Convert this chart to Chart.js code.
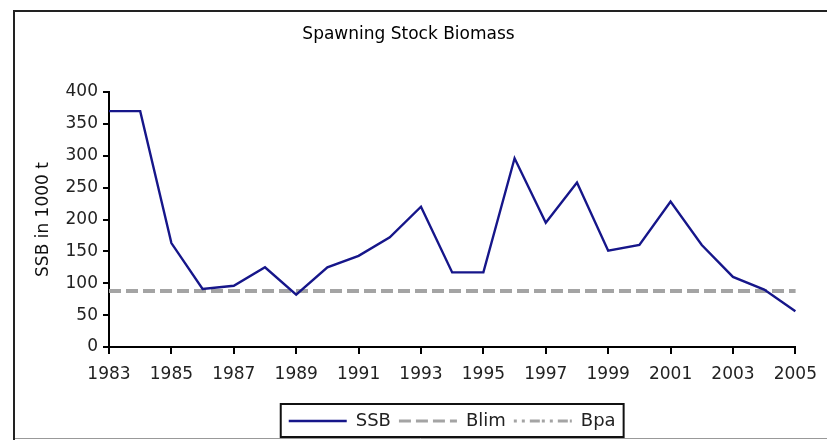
<!DOCTYPE html>
<html>
<head>
<meta charset="utf-8">
<script src="https://cdn.jsdelivr.net/npm/chart.js@4.4.0/dist/chart.umd.min.js"></script>
<style>
  html, body { margin: 0; padding: 0; background: #fff; }
</style>
</head>
<body>
<canvas id="chart" width="827" height="440"></canvas>
<script>
// valores (miles de t)
const years = ['1983', '1984', '1985', '1986', '1987', '1988', '1989', '1990', '1991', '1992', '1993', '1994',
  '1995', '1996', '1997', '1998', '1999', '2000', '2001', '2002', '2003', '2004', '2005'];
const ssb = [370, 370, 163, 91, 96, 125, 82, 125, 143, 172, 220, 117,
  117, 296, 195, 258, 151, 160, 228, 160, 110, 90, 56];
const blim = [88, 88, 88, 88, 88, 88, 88, 88, 88, 88, 88, 88,
  88, 88, 88, 88, 88, 88, 88, 88, 88, 88, 88];
const bpa = [88, 88, 88, 88, 88, 88, 88, 88, 88, 88, 88, 88,
  88, 88, 88, 88, 88, 88, 88, 88, 88, 88, 88];
const yTicks = [0, 50, 100, 150, 200, 250, 300, 350, 400];

const FONT = 'DejaVu Sans';

// marco exterior + recuadro de la leyenda
const framePlugin = {
  id: 'frame',
  beforeDraw(chart) {
    const ctx = chart.ctx;
    ctx.save();
    ctx.fillStyle = '#fff';
    ctx.fillRect(0, 0, chart.width, chart.height);
    ctx.strokeStyle = '#999';
    ctx.lineWidth = 1;
    ctx.beginPath();
    ctx.moveTo(14, 438.5);
    ctx.lineTo(chart.width, 438.5);
    ctx.stroke();
    ctx.strokeStyle = '#222';
    ctx.lineWidth = 2;
    ctx.beginPath();
    ctx.moveTo(14, chart.height);
    ctx.lineTo(14, 11);
    ctx.lineTo(chart.width, 11);
    ctx.stroke();
    ctx.restore();
  },
  afterDraw(chart) {
    const boxes = chart.legend.legendHitBoxes;
    if (!boxes || !boxes.length) return;
    const left = Math.min(...boxes.map(b => b.left)) - 8;
    const right = Math.max(...boxes.map(b => b.left + b.width)) + 8;
    const ctx = chart.ctx;
    ctx.save();
    ctx.strokeStyle = '#111';
    ctx.lineWidth = 2;
    ctx.strokeRect(left, 404, right - left, 33);
    ctx.restore();
  }
};

new Chart(document.getElementById('chart'), {
  type: 'line',
  data: {
    labels: years,
    datasets: [
      { label: 'SSB', data: ssb, borderColor: '#16168a', borderWidth: 2.4, pointRadius: 0, pointStyle: 'line', tension: 0 },
      { label: 'Blim', data: blim, borderColor: '#a4a4a4', borderWidth: 4, borderDash: [12, 5], pointRadius: 0, pointStyle: 'line' },
      { label: 'Bpa', data: bpa, borderColor: '#a4a4a4', borderWidth: 4, borderDash: [12, 5], legendDash: [3, 5, 3, 5, 10, 2], pointRadius: 0, pointStyle: 'line' }
    ]
  },
  options: {
    responsive: false,
    animation: false,
    devicePixelRatio: 1,
    layout: { padding: { left: 20, right: 30, top: 0, bottom: 0 } },
    plugins: {
      title: {
        display: true,
        text: 'Spawning Stock Biomass',
        color: '#000',
        font: { family: FONT, size: 17, weight: 'normal' },
        padding: { top: 24, bottom: 47.6 }
      },
      legend: {
        position: 'bottom',
        fullSize: false,
        labels: {
          usePointStyle: true,
          pointStyleWidth: 58,
          boxHeight: 18,
          padding: 8,
          color: '#222',
          font: { family: FONT, size: 18 },
          generateLabels(chart) {
            const items = Chart.defaults.plugins.legend.labels.generateLabels(chart);
            items.forEach(it => {
              const ds = chart.data.datasets[it.datasetIndex];
              it.strokeStyle = ds.borderColor;
              it.lineWidth = ds.datasetIndex === 0 ? 2 : Math.min(ds.borderWidth, 3);
              it.lineDash = ds.legendDash || ds.borderDash || [];
              it.pointStyle = 'line';
            });
            return items;
          }
        }
      },
      tooltip: { enabled: false }
    },
    scales: {
      x: {
        offset: false,
        afterFit(scale) { scale.height = 57; },
        grid: {
          drawOnChartArea: false,
          drawTicks: true,
          tickLength: 7,
          lineWidth: 2,
          color: c => (c.index % 2 === 0 ? '#000' : 'rgba(0,0,0,0)')
        },
        border: { display: true, color: '#000', width: 2 },
        ticks: {
          autoSkip: false,
          maxRotation: 0,
          padding: 10,
          color: '#222',
          font: { family: FONT, size: 17 },
          callback(v, i) { return i % 2 === 0 ? years[i] : ''; }
        }
      },
      y: {
        min: 0,
        max: 400,
        afterFit(scale) { scale.width = 89; },
        afterBuildTicks(scale) { scale.ticks = yTicks.map(v => ({ value: v })); },
        grid: { drawOnChartArea: false, drawTicks: true, tickLength: 6, lineWidth: 2, color: '#000' },
        border: { display: true, color: '#000', width: 2 },
        ticks: { padding: 5, color: '#222', font: { family: FONT, size: 17 } },
        title: {
          display: true,
          text: 'SSB in 1000 t',
          color: '#111',
          font: { family: FONT, size: 17 },
          padding: { top: 13, bottom: 0 }
        }
      }
    }
  },
  plugins: [framePlugin]
});
</script>
</body>
</html>
